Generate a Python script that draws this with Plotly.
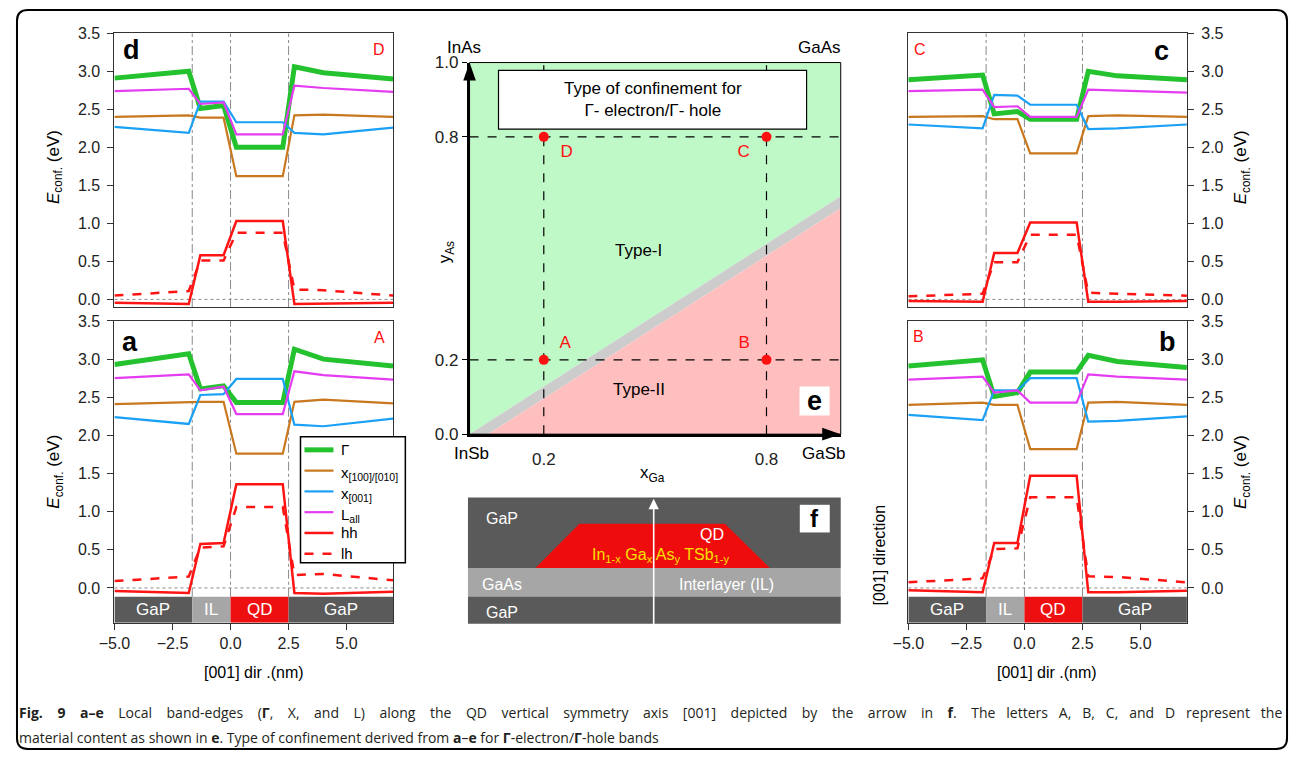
import plotly.graph_objects as go

W, H = 1290, 760
FONT = "Liberation Sans"

# ---------------- data ----------------
X_POS = [-5.0, -1.8, -1.3, -0.3, 0.25, 2.25, 2.75, 4.0, 7.0]
BOUNDS = [-1.65, 0.0, 2.5]

BAND_NAMES = ["Γ", "x<sub>[100]/[010]</sub>", "x<sub>[001]</sub>", "L<sub>all</sub>", "hh", "lh"]

D_G = [2.91, 3.00, 2.51, 2.55, 2.00, 2.00, 3.06, 2.98, 2.90]
D_X100 = [2.40, 2.42, 2.39, 2.39, 1.62, 1.62, 2.42, 2.43, 2.40]
D_X001 = [2.27, 2.19, 2.60, 2.60, 2.33, 2.33, 2.19, 2.17, 2.26]
D_L = [2.74, 2.77, 2.57, 2.59, 2.17, 2.17, 2.81, 2.78, 2.73]
D_HH = [-0.045, -0.06, 0.58, 0.58, 1.03, 1.03, -0.06, -0.055, -0.045]
D_LH = [0.05, 0.11, 0.51, 0.51, 0.875, 0.875, 0.13, 0.12, 0.05]

A_G = [2.93, 3.07, 2.61, 2.65, 2.43, 2.43, 3.13, 3.00, 2.91]
A_X100 = [2.41, 2.44, 2.44, 2.44, 1.76, 1.76, 2.44, 2.47, 2.42]
A_X001 = [2.24, 2.15, 2.53, 2.54, 2.74, 2.74, 2.14, 2.12, 2.22]
A_L = [2.75, 2.80, 2.59, 2.64, 2.28, 2.28, 2.84, 2.79, 2.73]
A_HH = [-0.04, -0.065, 0.576, 0.59, 1.36, 1.36, -0.065, -0.075, -0.05]
A_LH = [0.09, 0.15, 0.53, 0.545, 1.06, 1.06, 0.17, 0.183, 0.10]

C_G = [2.89, 2.95, 2.44, 2.47, 2.37, 2.37, 3.00, 2.94, 2.89]
C_X100 = [2.40, 2.41, 2.37, 2.37, 1.92, 1.92, 2.41, 2.42, 2.40]
C_X001 = [2.30, 2.25, 2.69, 2.68, 2.56, 2.56, 2.24, 2.25, 2.30]
C_L = [2.74, 2.76, 2.53, 2.54, 2.40, 2.40, 2.76, 2.75, 2.72]
C_HH = [-0.02, -0.03, 0.61, 0.61, 1.01, 1.01, -0.03, -0.03, -0.02]
C_LH = [0.04, 0.074, 0.49, 0.49, 0.85, 0.85, 0.087, 0.075, 0.048]

B_G = [2.91, 2.99, 2.51, 2.56, 2.83, 2.83, 3.05, 2.97, 2.89]
B_X100 = [2.40, 2.43, 2.40, 2.40, 1.82, 1.82, 2.43, 2.44, 2.40]
B_X001 = [2.27, 2.20, 2.59, 2.59, 2.75, 2.75, 2.18, 2.19, 2.25]
B_L = [2.73, 2.77, 2.56, 2.59, 2.43, 2.43, 2.80, 2.77, 2.73]
B_HH = [-0.03, -0.057, 0.59, 0.59, 1.47, 1.47, -0.057, -0.057, -0.035]
B_LH = [0.074, 0.126, 0.51, 0.52, 1.19, 1.19, 0.153, 0.144, 0.074]

# material strip (a, b)
MAT_NAMES = ["GaP", "IL", "QD", "GaP"]
MAT_X0 = [-5.0, -1.65, 0.0, 2.5]
MAT_X1 = [-1.65, 0.0, 2.5, 7.0]

# panel e: composition diagram
COMP_X = [0.2, 0.8, 0.2, 0.8]
COMP_Y = [0.2, 0.2, 0.8, 0.8]
COMP_LABELS = ["A", "B", "D", "C"]
GREEN_X = [0, 0, 1, 1]
GREEN_Y = [0, 1, 1, 0.64]
GRAY_X = [0, 1, 1, 0.05]
GRAY_Y = [0, 0.64, 0.608, 0]
RED_X = [0.05, 1, 1]
RED_Y = [0, 0.608, 0]
GRID_VALS = [0.2, 0.8]

CAP1_WORDS = ("<b>Fig. 9 a–e</b> Local band-edges (<b>Γ</b>, X, and L) along the QD vertical symmetry axis "
              "[001] depicted by the arrow in <b>f</b>. The letters A, B, C, and D represent the")
CAP2 = ("material content as shown in <b>e</b>. Type of confinement derived from <b>a</b>–<b>e</b> for "
        "<b>Γ</b>-electron/<b>Γ</b>-hole bands")

# ---------------- helpers ----------------
# Positions below are given in target-picture pixels; the photographed page appears in the
# picture as  X = 14.1 + 0.989 * x_page,  Y = 8.7 + 0.976 * y_page, so convert back.
SX, TX, SY, TY = 0.989, 14.1, 0.976, 8.7


def pgx(X):
    return min(max((X - TX) / SX, 0.6), W - 0.6)


def pgy(Y):
    return min(max((Y - TY) / SY, 0.6), H - 0.6)


def px(X):
    return pgx(X) / W


def py(Y):
    return 1 - pgy(Y) / H


COLORS = ["#23c22e", "#c8781e", "#1aa0f5", "#e43cf0", "#ff1414", "#ff1414"]
WIDTHS = [5, 2.2, 2.2, 2.2, 2.5, 2.5]
DASHES = ["solid", "solid", "solid", "solid", "solid", "dash"]

fig = go.Figure()

panels = [
    ("x", "y", [D_G, D_X100, D_X001, D_L, D_HH, D_LH]),
    ("x2", "y2", [A_G, A_X100, A_X001, A_L, A_HH, A_LH]),
    ("x3", "y3", [C_G, C_X100, C_X001, C_L, C_HH, C_LH]),
    ("x4", "y4", [B_G, B_X100, B_X001, B_L, B_HH, B_LH]),
]

shapes = []
annotations = []

for xa, ya, bands in panels:
    strip = xa in ("x2", "x4")
    ybot = -0.115 if strip else -0.1
    shapes.append(dict(type="line", xref=xa, yref=ya, x0=-5, x1=7, y0=0, y1=0,
                       line=dict(color="#8a8a8a", width=1, dash="dot"), layer="below"))
    for b in BOUNDS:
        shapes.append(dict(type="line", xref=xa, yref=ya, x0=b, x1=b, y0=ybot, y1=3.5,
                           line=dict(color="#8a8a8a", width=1, dash="dashdot"), layer="below"))
    for i, vals in enumerate(bands):
        fig.add_trace(go.Scatter(
            x=X_POS, y=vals, mode="lines", xaxis=xa, yaxis=ya,
            name=BAND_NAMES[i], showlegend=False,
            line=dict(color=COLORS[i], width=WIDTHS[i], dash=DASHES[i]),
        ))
    if strip:
        mat_cols = {"GaP": "#5a5a5a", "IL": "#a6a6a6", "QD": "#ee1010"}
        for nm, x0, x1 in zip(MAT_NAMES, MAT_X0, MAT_X1):
            shapes.append(dict(type="rect", xref=xa, yref=ya, x0=x0, x1=x1, y0=-0.455, y1=-0.115,
                               fillcolor=mat_cols[nm], line=dict(width=0), layer="above"))
            annotations.append(dict(xref=xa, yref=ya, x=(x0 + x1) / 2, y=-0.285, text=nm,
                                    showarrow=False, font=dict(color="white", size=17, family=FONT)))

# panel e traces
for xs, ys, col in [(GREEN_X, GREEN_Y, "#c0f9c8"), (GRAY_X, GRAY_Y, "#cccccc"), (RED_X, RED_Y, "#ffbfbf")]:
    fig.add_trace(go.Scatter(x=xs, y=ys, fill="toself", fillcolor=col, mode="lines",
                             line=dict(width=0), xaxis="x5", yaxis="y5", showlegend=False,
                             hoverinfo="skip"))
for g in GRID_VALS:
    fig.add_trace(go.Scatter(x=[g, g], y=[0, 1], mode="lines", xaxis="x5", yaxis="y5",
                             line=dict(color="black", width=1.2, dash="dash"), showlegend=False))
    fig.add_trace(go.Scatter(x=[0, 1], y=[g, g], mode="lines", xaxis="x5", yaxis="y5",
                             line=dict(color="black", width=1.2, dash="dash"), showlegend=False))
fig.add_trace(go.Scatter(
    x=COMP_X, y=COMP_Y, mode="markers+text", xaxis="x5", yaxis="y5", showlegend=False,
    marker=dict(color="#ff1010", size=10),
    text=["  " + COMP_LABELS[0], COMP_LABELS[1] + "  ", "  " + COMP_LABELS[2], COMP_LABELS[3] + "  "],
    textposition=["top right", "top left", "bottom right", "bottom left"],
    textfont=dict(color="#ff1010", size=17, family=FONT),
))

# panel e decorations
shapes += [
    dict(type="rect", xref="x5 domain", yref="y5 domain", x0=0, x1=1, y0=0, y1=1,
         line=dict(color="black", width=1)),
    dict(type="rect", xref="x5", yref="y5", x0=0.078, x1=0.908, y0=0.821, y1=0.979,
         fillcolor="white", line=dict(color="black", width=1.2), layer="above"),
    dict(type="rect", xref="x5", yref="y5", x0=0.889, x1=0.97, y0=0.05, y1=0.128,
         fillcolor="white", line=dict(width=0), layer="above"),
    dict(type="path", xref="x5 domain", yref="y5 domain",
         path="M -0.017 0.952 L 0.017 0.952 L 0 1.0 Z", fillcolor="black", line=dict(width=0)),
    dict(type="path", xref="x5 domain", yref="y5 domain",
         path="M 0.95 -0.017 L 0.95 0.017 L 1.0 0 Z", fillcolor="black", line=dict(width=0)),
]
annotations += [
    dict(xref="x5", yref="y5", x=0.493, y=0.90, text="Type of confinement for<br>Γ- electron/Γ- hole",
         showarrow=False, font=dict(size=17, family=FONT, color="black")),
    dict(xref="x5", yref="y5", x=0.456, y=0.495, text="Type-I", showarrow=False,
         font=dict(size=17, family=FONT, color="black")),
    dict(xref="x5", yref="y5", x=0.456, y=0.119, text="Type-II", showarrow=False,
         font=dict(size=17, family=FONT, color="black")),
    dict(xref="x5", yref="y5", x=0.929, y=0.089, text="<b>e</b>", showarrow=False,
         font=dict(size=27, family=FONT, color="black")),
]


# panel f (schematic)
def prect(x0, y0, x1, y1, col, line=None):
    return dict(type="rect", xref="paper", yref="paper", x0=px(x0), x1=px(x1), y0=py(y1), y1=py(y0),
                fillcolor=col, line=line or dict(width=0), layer="above")


shapes += [
    prect(466.7, 497.7, 840, 568.3, "#5a5a5a"),
    prect(466.7, 568.3, 840, 596.7, "#a6a6a6"),
    prect(466.7, 596.7, 840, 624, "#5a5a5a"),
    dict(type="path", xref="paper", yref="paper", layer="above",
         path=f"M {px(534.3)} {py(568.3)} L {px(578.3)} {py(524)} L {px(724)} {py(524)} L {px(769)} {py(568.3)} Z",
         fillcolor="#ee0c0c", line=dict(width=0)),
    prect(799, 505, 829, 532.7, "white"),
]


def pann(text, x, y, size=16, color="white", angle=0, xanchor="center", family=FONT):
    return dict(xref="paper", yref="paper", x=px(x), y=py(y), text=text, showarrow=False,
                textangle=angle, xanchor=xanchor, yanchor="middle",
                font=dict(size=size, color=color, family=family))


annotations += [
    dict(xref="paper", yref="paper", x=px(652.7), y=py(499), ax=0, ay=(pgy(624) - pgy(499)),
         axref="pixel", ayref="pixel",
         text="", showarrow=True, arrowhead=2, arrowsize=1.3, arrowwidth=1.6, arrowcolor="white"),
    pann("GaP", 501, 519),
    pann("QD", 710.7, 535),
    pann("In<sub>1-x</sub> Ga<sub>x</sub> As<sub>y</sub> TSb<sub>1-y</sub>", 660, 556, color="#f5e000"),
    pann("GaAs", 501, 585),
    pann("Interlayer (IL)", 725.7, 585),
    pann("GaP", 501, 612.7),
    pann("<b>f</b>", 814, 519, size=24, color="black"),
]

# panel e outer labels
annotations += [
    pann("InAs", 463, 47, size=17, color="black"),
    pann("GaAs", 819, 47, size=17, color="black"),
    pann("InSb", 470, 454, size=17, color="black"),
    pann("GaSb", 823, 454, size=17, color="black"),
    pann("x<sub>Ga</sub>", 652, 474, size=17, color="black"),
    pann("y<sub>As</sub>", 445, 252, size=17, color="black", angle=-90),
]

# band panel labels
ytitle = "<i>E</i><sub>conf.</sub> (eV)"
annotations += [
    pann("<b>d</b>", 130, 50, size=27, color="black"),
    pann("D", 378, 49, size=16, color="#ff1010"),
    pann("<b>a</b>", 128, 342, size=27, color="black"),
    pann("A", 378, 338, size=16, color="#ff1010"),
    pann("C", 919, 49, size=16, color="#ff1010"),
    pann("<b>c</b>", 1161, 51, size=27, color="black"),
    pann("B", 918, 337, size=16, color="#ff1010"),
    pann("<b>b</b>", 1167, 342, size=27, color="black"),
    pann(ytitle, 53, 167, size=17, color="black", angle=-90),
    pann(ytitle, 53, 472, size=17, color="black", angle=-90),
    pann(ytitle, 1242, 167, size=17, color="black", angle=-90),
    pann(ytitle, 1242, 472, size=17, color="black", angle=-90),
    pann("[001] dir .(nm)", 252, 673, size=16, color="black"),
    pann("[001] dir .(nm)", 1047, 673, size=16, color="black"),
    pann("[001] direction", 879, 555, size=16, color="black", angle=-90),
]

# manual legend inside panel a (box drawn over the curves)
LEG_X0, LEG_X1, LEG_Y0, LEG_Y1 = 299, 404, 437, 563
shapes.append(prect(LEG_X0, LEG_Y0, LEG_X1, LEG_Y1, "white", line=dict(color="black", width=1.5)))
for i, nm in enumerate(BAND_NAMES):
    yy = 450 + i * 20.8
    shapes.append(dict(type="line", xref="paper", yref="paper", x0=px(303), x1=px(332), y0=py(yy), y1=py(yy),
                       line=dict(color=COLORS[i], width=WIDTHS[i], dash=DASHES[i]), layer="above"))
    annotations.append(pann(nm, 338, yy + (3 if "<sub>" in nm else 0), size=15, color="black", xanchor="left"))

# caption (first line justified by widening the word gaps)
words = CAP1_WORDS.split(" ")
cap1 = ""
for k, w in enumerate(words):
    cap1 += w
    if k < len(words) - 1:
        cap1 += " " + "\u00a0" * (3 if k < 22 else 2)
annotations += [
    pann(cap1, 12, 713, size=14, color="#231f20", xanchor="left", family="Open Sans"),
    pann(CAP2, 12, 738, size=14, color="#231f20", xanchor="left", family="Open Sans"),
]

# outer rounded frame (given directly in page pixels)
fx0, fy0, fx1, fy1, r = 1.0, 1.0, W - 3.0, H - 1.0, 11
pts = [("M", fx0 + r, fy0), ("L", fx1 - r, fy0), ("Q", fx1, fy0, fx1, fy0 + r), ("L", fx1, fy1 - r),
       ("Q", fx1, fy1, fx1 - r, fy1), ("L", fx0 + r, fy1), ("Q", fx0, fy1, fx0, fy1 - r), ("L", fx0, fy0 + r),
       ("Q", fx0, fy0, fx0 + r, fy0)]
path = ""
for p in pts:
    if p[0] == "Q":
        path += f"Q {p[1] / W} {1 - p[2] / H} {p[3] / W} {1 - p[4] / H} "
    else:
        path += f"{p[0]} {p[1] / W} {1 - p[2] / H} "
path += "Z"
shapes.append(dict(type="path", xref="paper", yref="paper", path=path,
                   line=dict(color="black", width=2)))

# ---------------- axes ----------------
tickfont = dict(size=16, family=FONT, color="#222")
XD = [px(112.7), px(391.7)]
XR = [px(907.7), px(1186.7)]
YT = [py(307), py(33)]
YB = [py(623), py(321)]


def xax(dom, anchor, labels):
    return dict(domain=dom, anchor=anchor, range=[-5, 7], showgrid=False, zeroline=False,
                showline=True, mirror=True, linecolor="#333", linewidth=1.2,
                tickvals=[-5, -2.5, 0, 2.5, 5] if labels else [], tickformat=".1f",
                ticks="outside" if labels else "", ticklen=6, tickcolor="#333",
                showticklabels=labels, tickfont=tickfont)


def yax(dom, anchor, rng, side):
    return dict(domain=dom, anchor=anchor, range=rng, side=side, showgrid=False, zeroline=False,
                showline=True, mirror=True, linecolor="#333", linewidth=1.2,
                tickvals=[0, 0.5, 1, 1.5, 2, 2.5, 3, 3.5], tickformat=".1f",
                ticks="outside", ticklen=6, tickcolor="#333", tickfont=tickfont,
                ticklabelstandoff=4)


fig.update_layout(
    width=W, height=H, margin=dict(l=0, r=0, t=0, b=0),
    paper_bgcolor="white", plot_bgcolor="white", showlegend=False,
    font=dict(family=FONT, size=16, color="black"),
    xaxis=xax(XD, "y", False), yaxis=yax(YT, "x", [-0.1, 3.5], "left"),
    xaxis2=xax(XD, "y2", True), yaxis2=yax(YB, "x2", [-0.455, 3.5], "left"),
    xaxis3=xax(XR, "y3", False), yaxis3=yax(YT, "x3", [-0.1, 3.5], "right"),
    xaxis4=xax(XR, "y4", True), yaxis4=yax(YB, "x4", [-0.455, 3.5], "right"),
    xaxis5=dict(domain=[px(468.3), px(840)], anchor="y5", range=[0, 1], showgrid=False, zeroline=False,
                showline=True, linewidth=2.5, linecolor="black", tickvals=[0.2, 0.8],
                ticktext=["0.2", "0.8"], ticks="", tickfont=dict(size=17, family=FONT, color="#222"),
                ticklabelstandoff=8),
    yaxis5=dict(domain=[py(434.3), py(62.3)], anchor="x5", range=[0, 1], showgrid=False, zeroline=False,
                showline=True, linewidth=2.5, linecolor="black", tickvals=[0, 0.2, 0.8, 1.0],
                tickformat=".1f", ticks="outside", ticklen=5, tickcolor="black",
                tickfont=dict(size=17, family=FONT, color="#222")),
    shapes=shapes, annotations=annotations,
)

fig.write_html("out.html", config={"displayModeBar": False},
               post_script="document.body.style.margin='0';")
